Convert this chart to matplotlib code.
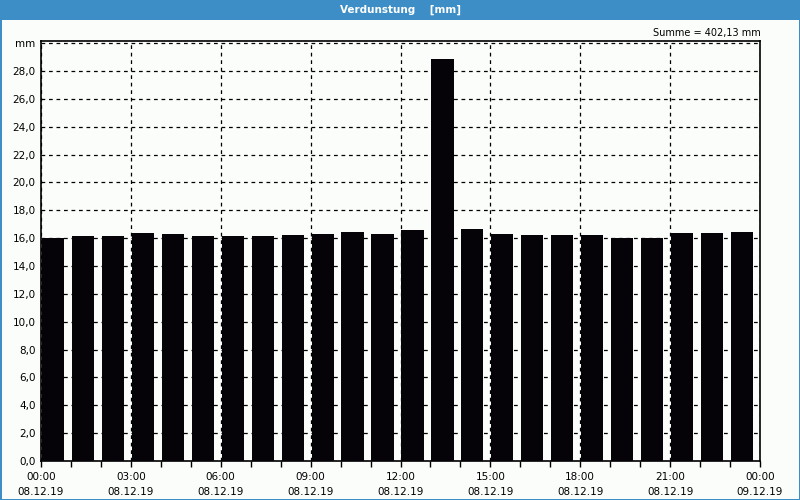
import matplotlib
matplotlib.use("Agg")
import matplotlib.pyplot as plt
from matplotlib.patches import Rectangle

# hourly evaporation, 08.12.19 00:00 .. 23:00
HOURS = list(range(24))
VALUES = [16.00, 16.16, 16.16, 16.35, 16.28, 16.16, 16.16, 16.16,
          16.21, 16.28, 16.43, 16.28, 16.57, 28.85, 16.64, 16.28,
          16.21, 16.21, 16.21, 16.00, 16.00, 16.35, 16.35, 16.43]
XTICKS = [0, 3, 6, 9, 12, 15, 18, 21, 24]
XLABELS = ["00:00\n08.12.19", "03:00\n08.12.19", "06:00\n08.12.19",
           "09:00\n08.12.19", "12:00\n08.12.19", "15:00\n08.12.19",
           "18:00\n08.12.19", "21:00\n08.12.19", "00:00\n09.12.19"]
YTICKS = list(range(0, 31, 2))
YLABELS = [f"{v},0" for v in YTICKS[:-1]] + ["mm"]

BLUE = "#3d8ec7"
BG = "#fafdfa"

fig = plt.figure(figsize=(8, 5), dpi=100, facecolor=BG)
W, H = 800, 500

# frame and title bar
fig.patches.append(Rectangle((0, 1 - 20 / H), 1, 20 / H, transform=fig.transFigure,
                             facecolor=BLUE, edgecolor="none", zorder=0))
for x0, y0, w, h in [(0, 0, 1.5 / W, 1), (1 - 1.5 / W, 0, 1.5 / W, 1), (0, 0, 1, 1.5 / H)]:
    fig.patches.append(Rectangle((x0, y0), w, h, transform=fig.transFigure,
                                 facecolor=BLUE, edgecolor="none", zorder=0))
fig.text(0.5, 1 - 10 / H, "Verdunstung    [mm]", color="white", fontsize=7.5,
         fontweight="bold", ha="center", va="center")
fig.text(761 / W, 1 - 33 / H, "Summe = 402,13 mm", fontsize=7,
         ha="right", va="center")

ax = fig.add_axes([41 / W, 39 / H, 719 / W, 420 / H])
ax.set_facecolor(BG)
ax.bar([h + 0.03 for h in HOURS], VALUES, width=0.74, align="edge",
       color="#050308", zorder=3)

ax.set_xlim(0, 24)
ax.set_ylim(0, 30.15)
ax.set_xticks(XTICKS)
ax.set_xticklabels(XLABELS, fontsize=7.5, linespacing=1.55)
ax.set_xticks(HOURS, minor=True)
ax.set_yticks(YTICKS)
ax.set_yticklabels(YLABELS, fontsize=7.5)
ax.tick_params(axis="x", which="both", direction="out", length=4, width=1, pad=4)
ax.tick_params(axis="y", length=0, pad=4)

ax.grid(True, which="major", color="black", ls=(0, (3, 3)), lw=0.9, zorder=1)
for s in ax.spines.values():
    s.set_linewidth(1.2)

fig.savefig("out.png", dpi=100, facecolor=BG)
